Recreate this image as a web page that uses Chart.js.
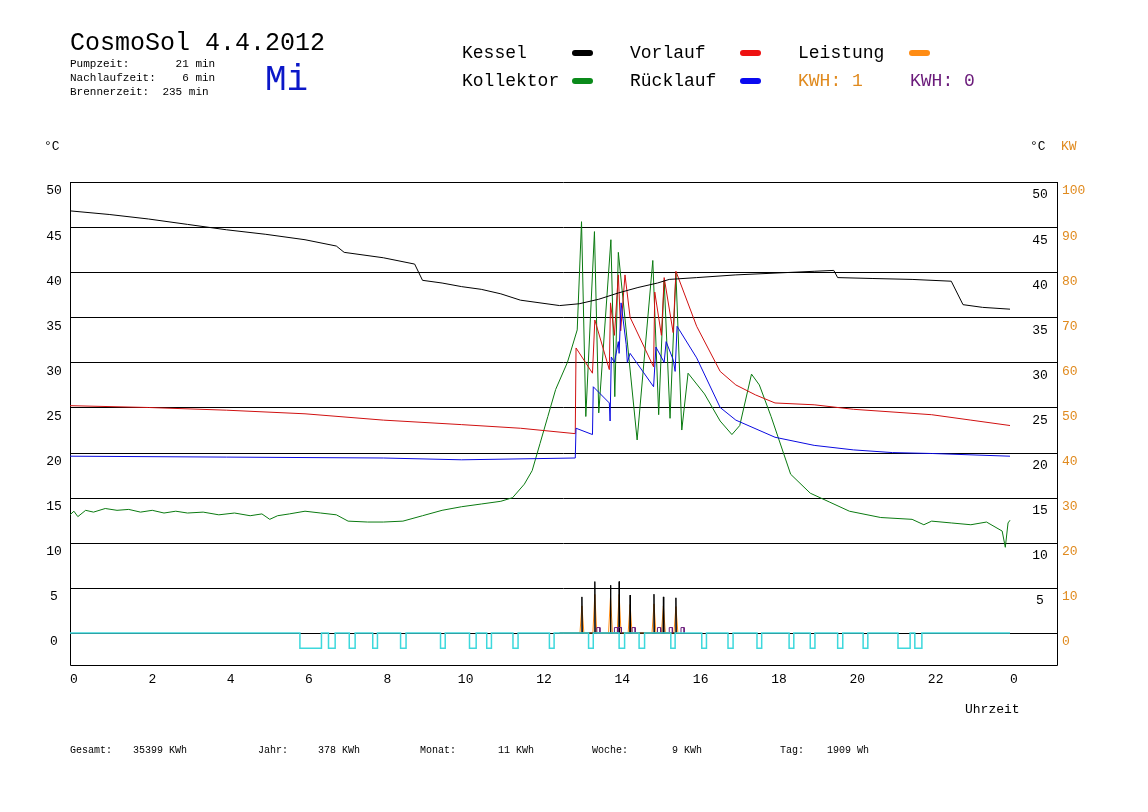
<!DOCTYPE html>
<html><head><meta charset="utf-8">
<script src="https://cdn.jsdelivr.net/npm/chart.js@4"></script>
<style>html,body{margin:0;padding:0;background:#fff}canvas{display:block}</style>
</head><body>
<div style="width:1148px;height:812px"><canvas id="c" width="1148" height="812"></canvas></div>
<script>
const xTicks=[0,2,4,6,8,10,12,14,16,18,20,22,24];
const xTickLabels=["0","2","4","6","8","10","12","14","16","18","20","22","0"];
const yTicks=[0,5,10,15,20,25,30,35,40,45,50];
const kwLabels=["0","10","20","30","40","50","60","70","80","90","100"];
const kessel=[[0,46.8],[1,46.4],[2,45.9],[3,45.3],[4,44.7],[5,44.2],[6,43.6],[6.8,42.9],[7,42.2],[8,41.6],[8.8,40.9],[9,39.1],[9.5,38.8],[10,38.4],[10.5,38.1],[11,37.6],[11.5,36.9],[12,36.6],[12.5,36.3],[13,36.5],[13.5,37.0],[14,37.7],[14.5,38.3],[15,38.8],[15.3,39.2],[16,39.4],[17,39.7],[18,39.9],[19,40.1],[19.5,40.2],[19.6,39.4],[20.5,39.3],[21.5,39.2],[22.5,39.0],[22.8,36.4],[23.3,36.1],[24,35.9]];
const vorlauf=[[0,25.2],[2,25.0],[4,24.7],[6,24.3],[8,23.6],[10,23.1],[11.5,22.7],[12.9,22.1],[12.92,31.6],[13.34,28.8],[13.4,34.7],[13.77,29.2],[13.8,36.6],[13.9,33],[14.0,39.7],[14.06,33.5],[14.17,39.7],[14.3,35],[14.9,29.5],[14.93,37.8],[15.1,33],[15.17,39.4],[15.4,33.3],[15.47,40.1],[16,34],[16.6,29.0],[17,27.5],[17.5,26.4],[18,25.5],[19,25.3],[20,24.8],[22,24.2],[23,23.6],[24,23.0]];
const ruecklauf=[[0,19.6],[4,19.5],[8,19.4],[10,19.2],[12.9,19.4],[12.92,22.7],[13.34,22.0],[13.36,27.3],[13.77,25.5],[13.79,23.5],[13.82,30.6],[13.9,30.0],[14.0,32.3],[14.02,31],[14.07,36.6],[14.2,32],[14.23,30],[14.3,31],[14.9,27.3],[14.96,31.7],[15.17,30],[15.22,32.3],[15.4,30.3],[15.45,29],[15.5,34],[16,30.5],[16.6,25.0],[17,23.6],[18,21.7],[19,20.8],[20,20.3],[21,20.0],[22,19.9],[24,19.6]];
const kollektor=[[0,13.1],[0.1,13.5],[0.2,12.9],[0.4,13.6],[0.6,13.4],[0.9,13.8],[1.2,13.6],[1.5,13.7],[1.8,13.4],[2.1,13.6],[2.4,13.3],[2.7,13.5],[3,13.3],[3.4,13.4],[3.8,13.1],[4.2,13.3],[4.6,13.0],[4.9,13.2],[5.1,12.6],[5.3,13.0],[5.6,13.2],[6,13.5],[6.4,13.3],[6.8,13.1],[7.1,12.4],[7.6,12.3],[8,12.3],[8.5,12.4],[9,13.0],[9.5,13.6],[10,14.0],[10.5,14.3],[11,14.6],[11.3,15.0],[11.6,16.5],[11.8,18],[12,21],[12.2,24],[12.4,27],[12.7,30],[12.95,33.6],[13.06,45.6],[13.17,24],[13.39,44.5],[13.5,24.4],[13.81,43.6],[13.91,26.2],[14.0,42.2],[14.48,21.4],[14.88,41.3],[15.03,24.2],[15.17,39.1],[15.32,23.8],[15.47,39.9],[15.62,22.5],[15.78,28.8],[16.2,26.5],[16.6,23.5],[16.9,22.0],[17.1,23],[17.4,28.7],[17.6,27.5],[17.9,24],[18.4,17.6],[18.9,15.5],[19.4,14.5],[19.9,13.5],[20.7,12.8],[21.5,12.6],[21.8,12.0],[22,12.4],[22.5,12.2],[23,12.0],[23.4,12.3],[23.8,11.3],[23.88,9.5],[23.95,12.2],[24,12.5]];
const burnSpikes=[[13.07,4.0],[13.4,5.7],[13.8,5.3],[14.02,5.7],[14.3,4.2],[14.91,4.3],[15.15,4.0],[15.47,3.9]];
const kwh0Bumps=[13.45,13.9,14.0,14.35,15.0,15.3,15.6];
const pumpPulses=[[5.87,6.42],[6.6,6.77],[7.13,7.28],[7.73,7.85],[8.44,8.58],[9.46,9.58],[10.2,10.37],[10.64,10.76],[11.31,11.44],[12.24,12.36],[13.24,13.36],[14.02,14.16],[14.53,14.67],[15.34,15.45],[16.13,16.25],[16.8,16.93],[17.54,17.66],[18.36,18.48],[18.9,19.02],[19.6,19.73],[20.25,20.37],[21.14,21.45],[21.57,21.75]];
const pulseLow=-1.7;

const P=a=>a.map(p=>({x:p[0],y:p[1]}));
const spikes=(f,w)=>{const o=[{x:12.5,y:0}];burnSpikes.forEach(s=>{o.push({x:s[0]-w,y:0},{x:s[0],y:s[1]*f},{x:s[0]+w,y:0});});return o;};
const bumps=()=>{const o=[];kwh0Bumps.forEach(b=>{o.push({x:b,y:0},{x:b,y:0.6},{x:b+0.08,y:0.6},{x:b+0.08,y:0},{x:null,y:null});});return o;};
const pump=()=>{const o=[{x:0,y:0}];pumpPulses.forEach(p=>{o.push({x:p[0],y:0},{x:p[0],y:pulseLow},{x:p[1],y:pulseLow},{x:p[1],y:0});});o.push({x:24,y:0});return o;};
const ds=(d,c,w)=>({data:d,borderColor:c,borderWidth:w||1,pointRadius:0,tension:0,fill:false,spanGaps:false});

const mono='"Liberation Mono", "DejaVu Sans Mono", monospace';
const deco={id:'deco',
beforeDatasetsDraw(ch){const c=ch.ctx,x=ch.scales.x,y=ch.scales.y,a=ch.chartArea;
 c.save();c.strokeStyle='#000';c.lineWidth=1;
 yTicks.forEach(v=>{const py=Math.round(y.getPixelForValue(v))+0.5;c.beginPath();c.moveTo(a.left,py);c.lineTo(a.right,py);c.stroke();});
 c.beginPath();c.moveTo(a.left+0.5,a.top);c.lineTo(a.left+0.5,a.bottom+0.5);c.lineTo(a.right+0.5,a.bottom+0.5);c.lineTo(a.right+0.5,a.top);c.stroke();
 c.restore();},
afterDraw(ch){const c=ch.ctx,x=ch.scales.x,y=ch.scales.y;
 c.save();c.textBaseline='middle';
 c.font='13px '+mono;c.fillStyle='#000';
 yTicks.forEach((v,i)=>{const py=y.getPixelForValue(v);
  c.textAlign='center';c.fillStyle='#000';c.fillText(String(v),54,py+9);
  if(v>0)c.fillText(String(v),1040,py+13);
  c.textAlign='left';c.fillStyle='#e08a1e';c.fillText(kwLabels[i],1062,py+9);});
 c.fillStyle='#000';c.textAlign='center';
 xTicks.forEach((v,i)=>c.fillText(xTickLabels[i],x.getPixelForValue(v)+4,680));
 c.textAlign='left';c.fillText('Uhrzeit',965,710);
 c.fillText('°C',44,147);c.fillText('°C',1030,147);c.fillStyle='#e08a1e';c.fillText('KW',1061,147);
 c.fillStyle='#000';c.font='25px '+mono;c.fillText('CosmoSol 4.4.2012',70,43);
 c.font='11px '+mono;c.fillText('Pumpzeit:       21 min',70,64);c.fillText('Nachlaufzeit:    6 min',70,78);c.fillText('Brennerzeit:  235 min',70,92);
 c.fillStyle='#0b17c8';c.font='36px '+mono;c.fillText('Mi',265,80);
 c.font='18px '+mono;c.fillStyle='#000';
 c.fillText('Kessel',462,53);c.fillText('Vorlauf',630,53);c.fillText('Leistung',798,53);
 c.fillText('Kollektor',462,81);c.fillText('Rücklauf',630,81);
 c.fillStyle='#e08a1e';c.fillText('KWH: 1',798,81);c.fillStyle='#6a1a7a';c.fillText('KWH: 0',910,81);
 c.lineCap='round';c.lineWidth=6;
 [[575,53,'#000'],[743,53,'#ee1111'],[912,53,'#ff8c14'],[575,81,'#0a8a1a'],[743,81,'#0a0af0']].forEach(s=>{c.strokeStyle=s[2];c.beginPath();c.moveTo(s[0],s[1]);c.lineTo(s[0]+15,s[1]);c.stroke();});
 c.fillStyle='#000';c.font='10px '+mono;
 [['Gesamt:',70],['35399 KWh',133],['Jahr:',258],['378 KWh',318],['Monat:',420],['11 KWh',498],['Woche:',592],['9 KWh',672],['Tag:',780],['1909 Wh',827]].forEach(t=>c.fillText(t[0],t[1],750));
 c.restore();}};

new Chart(document.getElementById('c'),{type:'line',
data:{datasets:[
 ds(pump(),'#3ed8dc',1.5),
 ds(bumps(),'#6a1a7a'),
 ds(spikes(1,0.01),'#000'),
 ds(spikes(0.75,0.05),'#ff8c14'),
 ds(P(kessel),'#000'),
 ds(P(ruecklauf),'#0a0ae0'),
 ds(P(vorlauf),'#d01010'),
 ds(P(kollektor),'#0a7a10')
]},
options:{responsive:false,animation:false,parsing:true,
 layout:{padding:{left:70,right:91,top:182,bottom:147}},
 plugins:{legend:{display:false},tooltip:{enabled:false}},
 scales:{x:{type:'linear',min:0,max:25.2,display:false},y:{min:-3.55,max:50,display:false}}},
plugins:[deco]});
</script></body></html>
